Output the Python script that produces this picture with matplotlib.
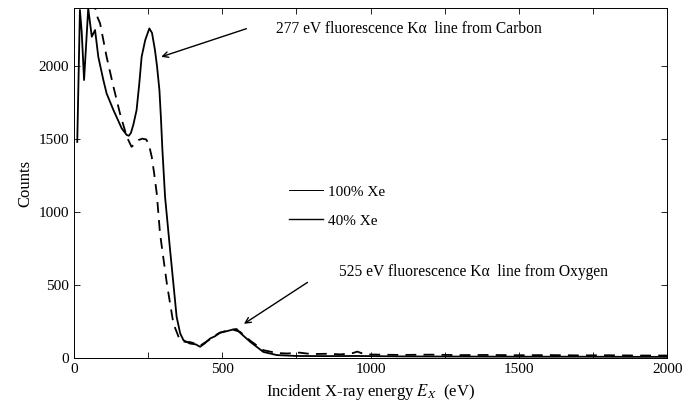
import matplotlib.pyplot as plt
from matplotlib.ticker import MultipleLocator
from matplotlib.lines import Line2D

plt.rcParams['font.family'] = ['Liberation Serif', 'DejaVu Serif']
plt.rcParams['mathtext.fontset'] = 'stix'

# solid curve (40% Xe)
e_solid = [11, 20, 26, 34, 48, 60, 71, 82, 99, 110, 133, 161, 178, 185, 192, 200,
           211, 220, 228, 240, 254, 263, 273, 280, 288, 293, 298, 307, 324, 346,
           358, 369, 391, 410, 425, 440, 459, 475, 492, 515, 537, 548, 560, 594,
           638, 684, 750, 850, 950, 1100, 1300, 1500, 1700, 1900, 2000]
c_solid = [1483, 2387, 2238, 1907, 2398, 2204, 2250, 2066, 1907, 1815, 1701, 1575,
           1530, 1525, 1545, 1600, 1701, 1880, 2066, 2180, 2261, 2230, 2112, 2000,
           1838, 1650, 1430, 1106, 741, 283, 170, 123, 100, 95, 78, 100, 135, 150,
           174, 185, 197, 200, 174, 112, 43, 21, 15, 14, 15, 12, 11, 10, 10, 9, 9]

# dashed curve (100% Xe)
e_dash = [66, 74, 88, 110, 133, 155, 178, 194, 205, 217, 230, 243, 252, 262, 270,
          279, 290, 313, 335, 357, 375, 391, 410, 425, 440, 459, 475, 492, 515,
          537, 560, 594, 638, 684, 720, 760, 800, 850, 900, 940, 955, 975, 1000,
          1100, 1200, 1300, 1400, 1500, 1600, 1700, 1800, 1900, 2000]
c_dash = [2500, 2364, 2295, 2066, 1861, 1678, 1518, 1449, 1470, 1495, 1505, 1500,
          1470, 1381, 1270, 1129, 855, 512, 238, 123, 112, 110, 100, 85, 105, 130,
          155, 175, 188, 195, 180, 120, 55, 35, 32, 38, 28, 30, 26, 35, 45, 30,
          25, 22, 24, 21, 22, 20, 21, 19, 20, 18, 18]

fig = plt.figure(figsize=(6.98, 4.07), dpi=100)
ax = fig.add_axes([0.106, 0.120, 0.850, 0.860])

ax.plot(e_solid, c_solid, color='black', lw=1.3)
ax.plot(e_dash, c_dash, color='black', lw=1.3, ls=(0, (6, 4)))

ax.set_xlim(0, 2000)
ax.set_ylim(0, 2400)
ax.xaxis.set_major_locator(MultipleLocator(500))
ax.xaxis.set_minor_locator(MultipleLocator(250))
ax.yaxis.set_major_locator(MultipleLocator(500))
ax.tick_params(which='both', direction='in', top=True, right=True,
               length=4, width=0.6, labelsize=11)
for s in ax.spines.values():
    s.set_linewidth(0.7)

ax.set_xlabel('Incident X-ray energy $E_X$  (eV)', fontsize=12)
ax.set_ylabel('Counts', fontsize=12)

ax.annotate('', xy=(285, 2060), xytext=(590, 2265),
            arrowprops=dict(arrowstyle='->', color='black', lw=1))
ax.text(680, 2255, '277 eV fluorescence K\u03b1  line from Carbon',
        fontsize=11.2, va='center')

ax.annotate('', xy=(565, 225), xytext=(795, 530),
            arrowprops=dict(arrowstyle='->', color='black', lw=1))
ax.text(895, 590, '525 eV fluorescence K\u03b1  line from Oxygen',
        fontsize=11.2, va='center')

handles = [Line2D([], [], color='black', lw=0.7),
           Line2D([], [], color='black', lw=1.0)]
ax.legend(handles, ['100% Xe', '40% Xe'], loc='center left',
          bbox_to_anchor=(0.34, 0.434), frameon=False, fontsize=11,
          handlelength=2.2, handletextpad=0.3, labelspacing=1.0)

fig.savefig('out.png', dpi=100)
